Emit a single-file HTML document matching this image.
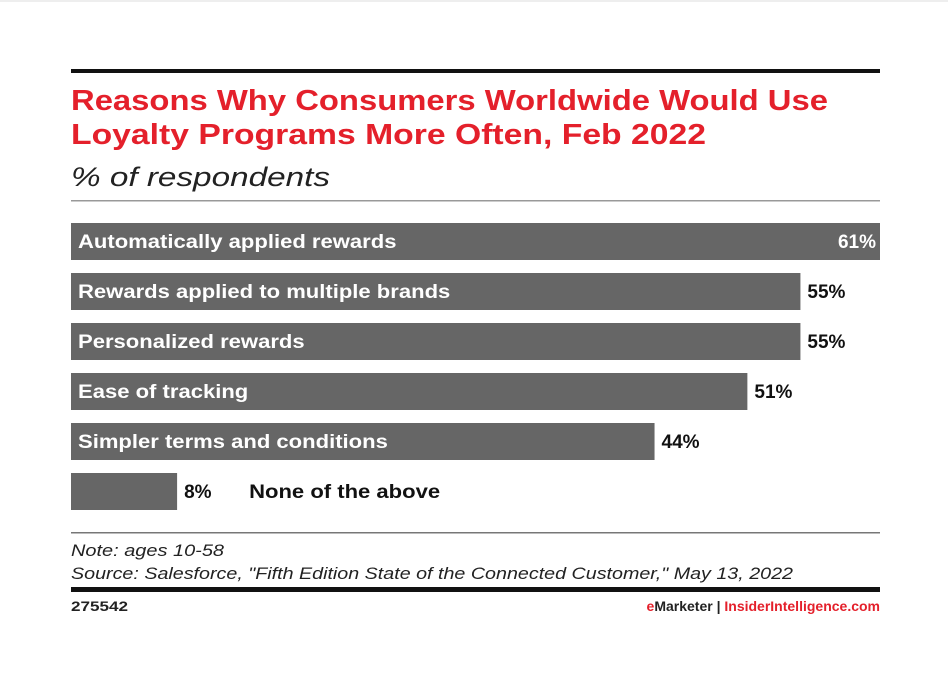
<!DOCTYPE html>
<html><head><meta charset="utf-8"><style>
body{margin:0;background:#fff;width:948px;height:674px;overflow:hidden;font-family:"Liberation Sans",sans-serif}
svg{display:block}
</style></head><body>
<svg width="948" height="674">
<rect x="0" y="0" width="948" height="2" fill="#eee"/>
<rect x="71" y="69" width="809" height="4" fill="#111"/>
<text class="st" x="71" y="110" font-size="29" font-weight="bold" fill="#e4202b" textLength="757" lengthAdjust="spacingAndGlyphs">Reasons Why Consumers Worldwide Would Use</text>
<text x="71" y="144" font-size="29" font-weight="bold" fill="#e4202b" textLength="635" lengthAdjust="spacingAndGlyphs">Loyalty Programs More Often, Feb 2022</text>
<text x="71" y="186" font-size="27" font-style="italic" fill="#222" textLength="259" lengthAdjust="spacingAndGlyphs">% of respondents</text>
<rect x="71" y="200" width="809" height="1.5" fill="#999"/>
<g id="bars"></g>
<rect x="71" y="532" width="809" height="1.5" fill="#777"/>
<text x="71" y="556" font-size="17" font-style="italic" fill="#222" textLength="153" lengthAdjust="spacingAndGlyphs">Note: ages 10-58</text>
<text x="71" y="579" font-size="17" font-style="italic" fill="#222" textLength="722" lengthAdjust="spacingAndGlyphs">Source: Salesforce, "Fifth Edition State of the Connected Customer," May 13, 2022</text>
<rect x="71" y="587" width="809" height="5" fill="#111"/>
<text x="71" y="611" font-size="14" font-weight="bold" fill="#222" textLength="57" lengthAdjust="spacingAndGlyphs">275542</text>
<text x="880" y="611" font-size="14" font-weight="bold" text-anchor="end"><tspan fill="#e4202b">e</tspan><tspan fill="#222">Marketer  |  </tspan><tspan fill="#e4202b">InsiderIntelligence.com</tspan></text>
</svg>
<script>
const categories=["Automatically applied rewards","Rewards applied to multiple brands","Personalized rewards","Ease of tracking","Simpler terms and conditions","None of the above"];
const values=[61,55,55,51,44,8];
const valueLabels=["61%","55%","55%","51%","44%","8%"];
const ns="http://www.w3.org/2000/svg";
const g=document.getElementById("bars");
const x0=71,maxW=809,maxV=61;
function xs(v){return v/maxV*maxW;}
function ys(i){return 223+i*50;}
function mk(tag,attrs){const e=document.createElementNS(ns,tag);for(const k in attrs)e.setAttribute(k,attrs[k]);return e;}
values.forEach((v,i)=>{
  const w=xs(v),y=ys(i);
  const r=mk("rect",{x:x0,y:y,width:w,height:37,fill:"#666"});
  
  
  g.appendChild(r);
  const inside=w>300;
  const lab=mk("text",{x:inside?x0+7:x0+w+72,y:y+25,"font-size":19,"font-weight":"bold",fill:inside?"#fff":"#111"});
  lab.textContent=categories[i];
  
  
  g.appendChild(lab);
  const L=lab.getComputedTextLength();
  lab.setAttribute("textLength",L*1.16);
  lab.setAttribute("lengthAdjust","spacingAndGlyphs");
  const last=i===0;
  const val=mk("text",{x:last?x0+w-4:x0+w+7,y:y+25,"font-size":19,"font-weight":"bold",fill:last?"#fff":"#111","text-anchor":last?"end":"start"});
  val.textContent=valueLabels[i];
  
  
  g.appendChild(val);
});
</script>
</body></html>
